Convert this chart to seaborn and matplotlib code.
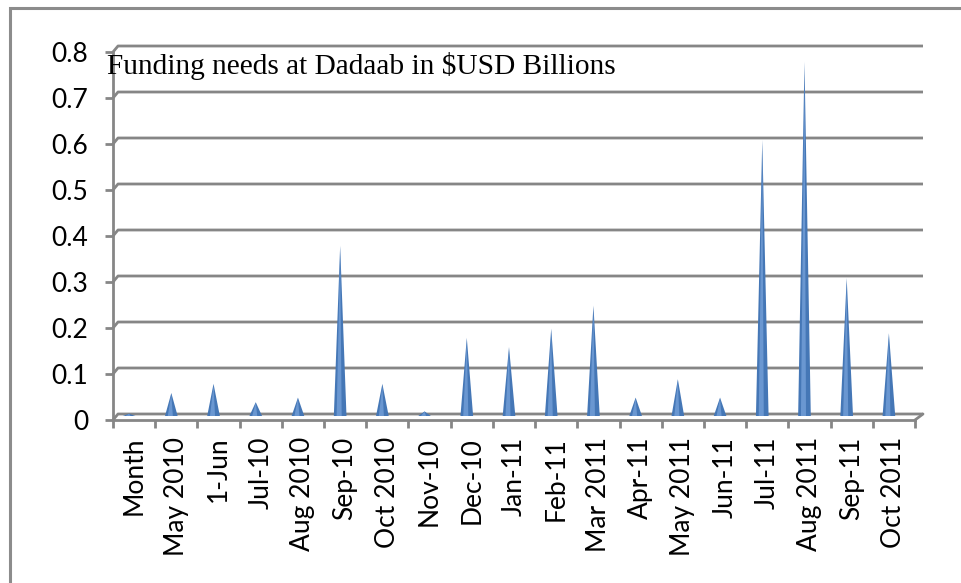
import numpy as np
import pandas as pd
import seaborn as sns
import matplotlib
matplotlib.use("Agg")
import matplotlib.pyplot as plt
from matplotlib.patches import Polygon, Rectangle
from matplotlib.transforms import offset_copy

# ---- data ----
months = ["Month", "May 2010", "1-Jun", "Jul-10", "Aug 2010", "Sep-10", "Oct 2010",
          "Nov-10", "Dec-10", "Jan-11", "Feb-11", "Mar 2011", "Apr-11", "May 2011",
          "Jun-11", "Jul-11", "Aug 2011", "Sep-11", "Oct 2011"]
values = [0.005, 0.05, 0.07, 0.03, 0.04, 0.37, 0.07, 0.01, 0.17, 0.15, 0.19, 0.24,
          0.04, 0.08, 0.04, 0.60, 0.77, 0.30, 0.18]
y_ticks = [0, 0.1, 0.2, 0.3, 0.4, 0.5, 0.6, 0.7, 0.8]
y_tick_labels = ["0", "0.1", "0.2", "0.3", "0.4", "0.5", "0.6", "0.7", "0.8"]
title = "Funding needs at Dadaab in $USD Billions"

sns.set_theme(style="white")
plt.rcParams["font.family"] = ["Lato", "DejaVu Sans"]

GRID = "#868686"
W, H = 962, 583
fig = plt.figure(figsize=(W / 100, H / 100), dpi=100)
fig.patch.set_facecolor("white")

ax_left, ax_right, ax_bottom, ax_top = 113, 915, 420, 52
ax = fig.add_axes([ax_left / W, (H - ax_bottom) / H,
                   (ax_right - ax_left) / W, (ax_bottom - ax_top) / H])

df = pd.DataFrame({"month": months, "value": values})
sns.barplot(data=df, x="month", y="value", width=0.3, color="#4F81BD",
            saturation=1, errorbar=None, ax=ax)

ax.set_xlim(-0.5, len(months) - 0.5)
ax.set_ylim(0, 0.8)

# convert bars into cones
cone_tr = offset_copy(ax.transData, fig=fig, x=-5, y=4, units="dots")
for p in list(ax.patches):
    x0, w, h = p.get_x(), p.get_width(), p.get_height()
    p.remove()
    ax.add_patch(Polygon([[x0, 0], [x0 + w / 2, h], [x0 + w, 0]], closed=True,
                         facecolor="#4577B6", edgecolor="none",
                         transform=cone_tr, zorder=3, clip_on=False))
    ax.add_patch(Polygon([[x0 + w * 0.22, 0], [x0 + w / 2, h * 0.96],
                          [x0 + w * 0.62, 0]], closed=True,
                         facecolor="#6A97D1", edgecolor="none",
                         transform=cone_tr, zorder=3.1, clip_on=False))

# back-wall gridlines with 3D bevel
px_per_x = (ax_right - ax_left) / len(months)
px_per_y = (ax_bottom - ax_top) / 0.8
dxl, dxr, dy = 5 / px_per_x, 8 / px_per_x, 6 / px_per_y
n = len(months)
for v in y_ticks:
    ax.plot([-0.5, -0.5 + dxl, n - 0.5 + dxr], [v, v + dy, v + dy],
            color=GRID, lw=2, clip_on=False, zorder=1, solid_capstyle="butt")
ax.plot([n - 0.5, n - 0.5 + dxr], [0, dy], color=GRID, lw=2, clip_on=False, zorder=1)

# axes styling
for s in ["top", "right"]:
    ax.spines[s].set_visible(False)
for s in ["left", "bottom"]:
    ax.spines[s].set_color(GRID)
    ax.spines[s].set_linewidth(2)

ax.set_yticks(y_ticks)
ax.set_yticklabels(y_tick_labels)
ax.tick_params(axis="y", left=True, length=6, width=2, color=GRID, pad=12,
               labelsize=19, labelcolor="black")
ax.set_xticks(np.arange(n))
ax.set_xticklabels(months, rotation=90)
ax.set_xticks(np.arange(-0.5, n, 1), minor=True)
ax.tick_params(axis="x", which="major", length=0, pad=12, labelsize=19,
               labelcolor="black")
ax.tick_params(axis="x", which="minor", bottom=True, length=6, width=2, color=GRID)
ax.set_xlabel("")
ax.set_ylabel("")
ax.grid(False)
ax.set_facecolor("none")

# title inside plot
fig.text(107 / W, 1 - 66 / H, title, family=["Liberation Serif", "DejaVu Serif"],
         fontsize=21.2, ha="left", va="center", color="black")

# outer chart frame (partly cut off)
fig.add_artist(Rectangle((10 / W, -0.1), 1.2, (H - 8) / H + 0.1,
                         transform=fig.transFigure, fill=False,
                         edgecolor="#8C8C8C", lw=2.2))

fig.savefig("out.png", dpi=100)
